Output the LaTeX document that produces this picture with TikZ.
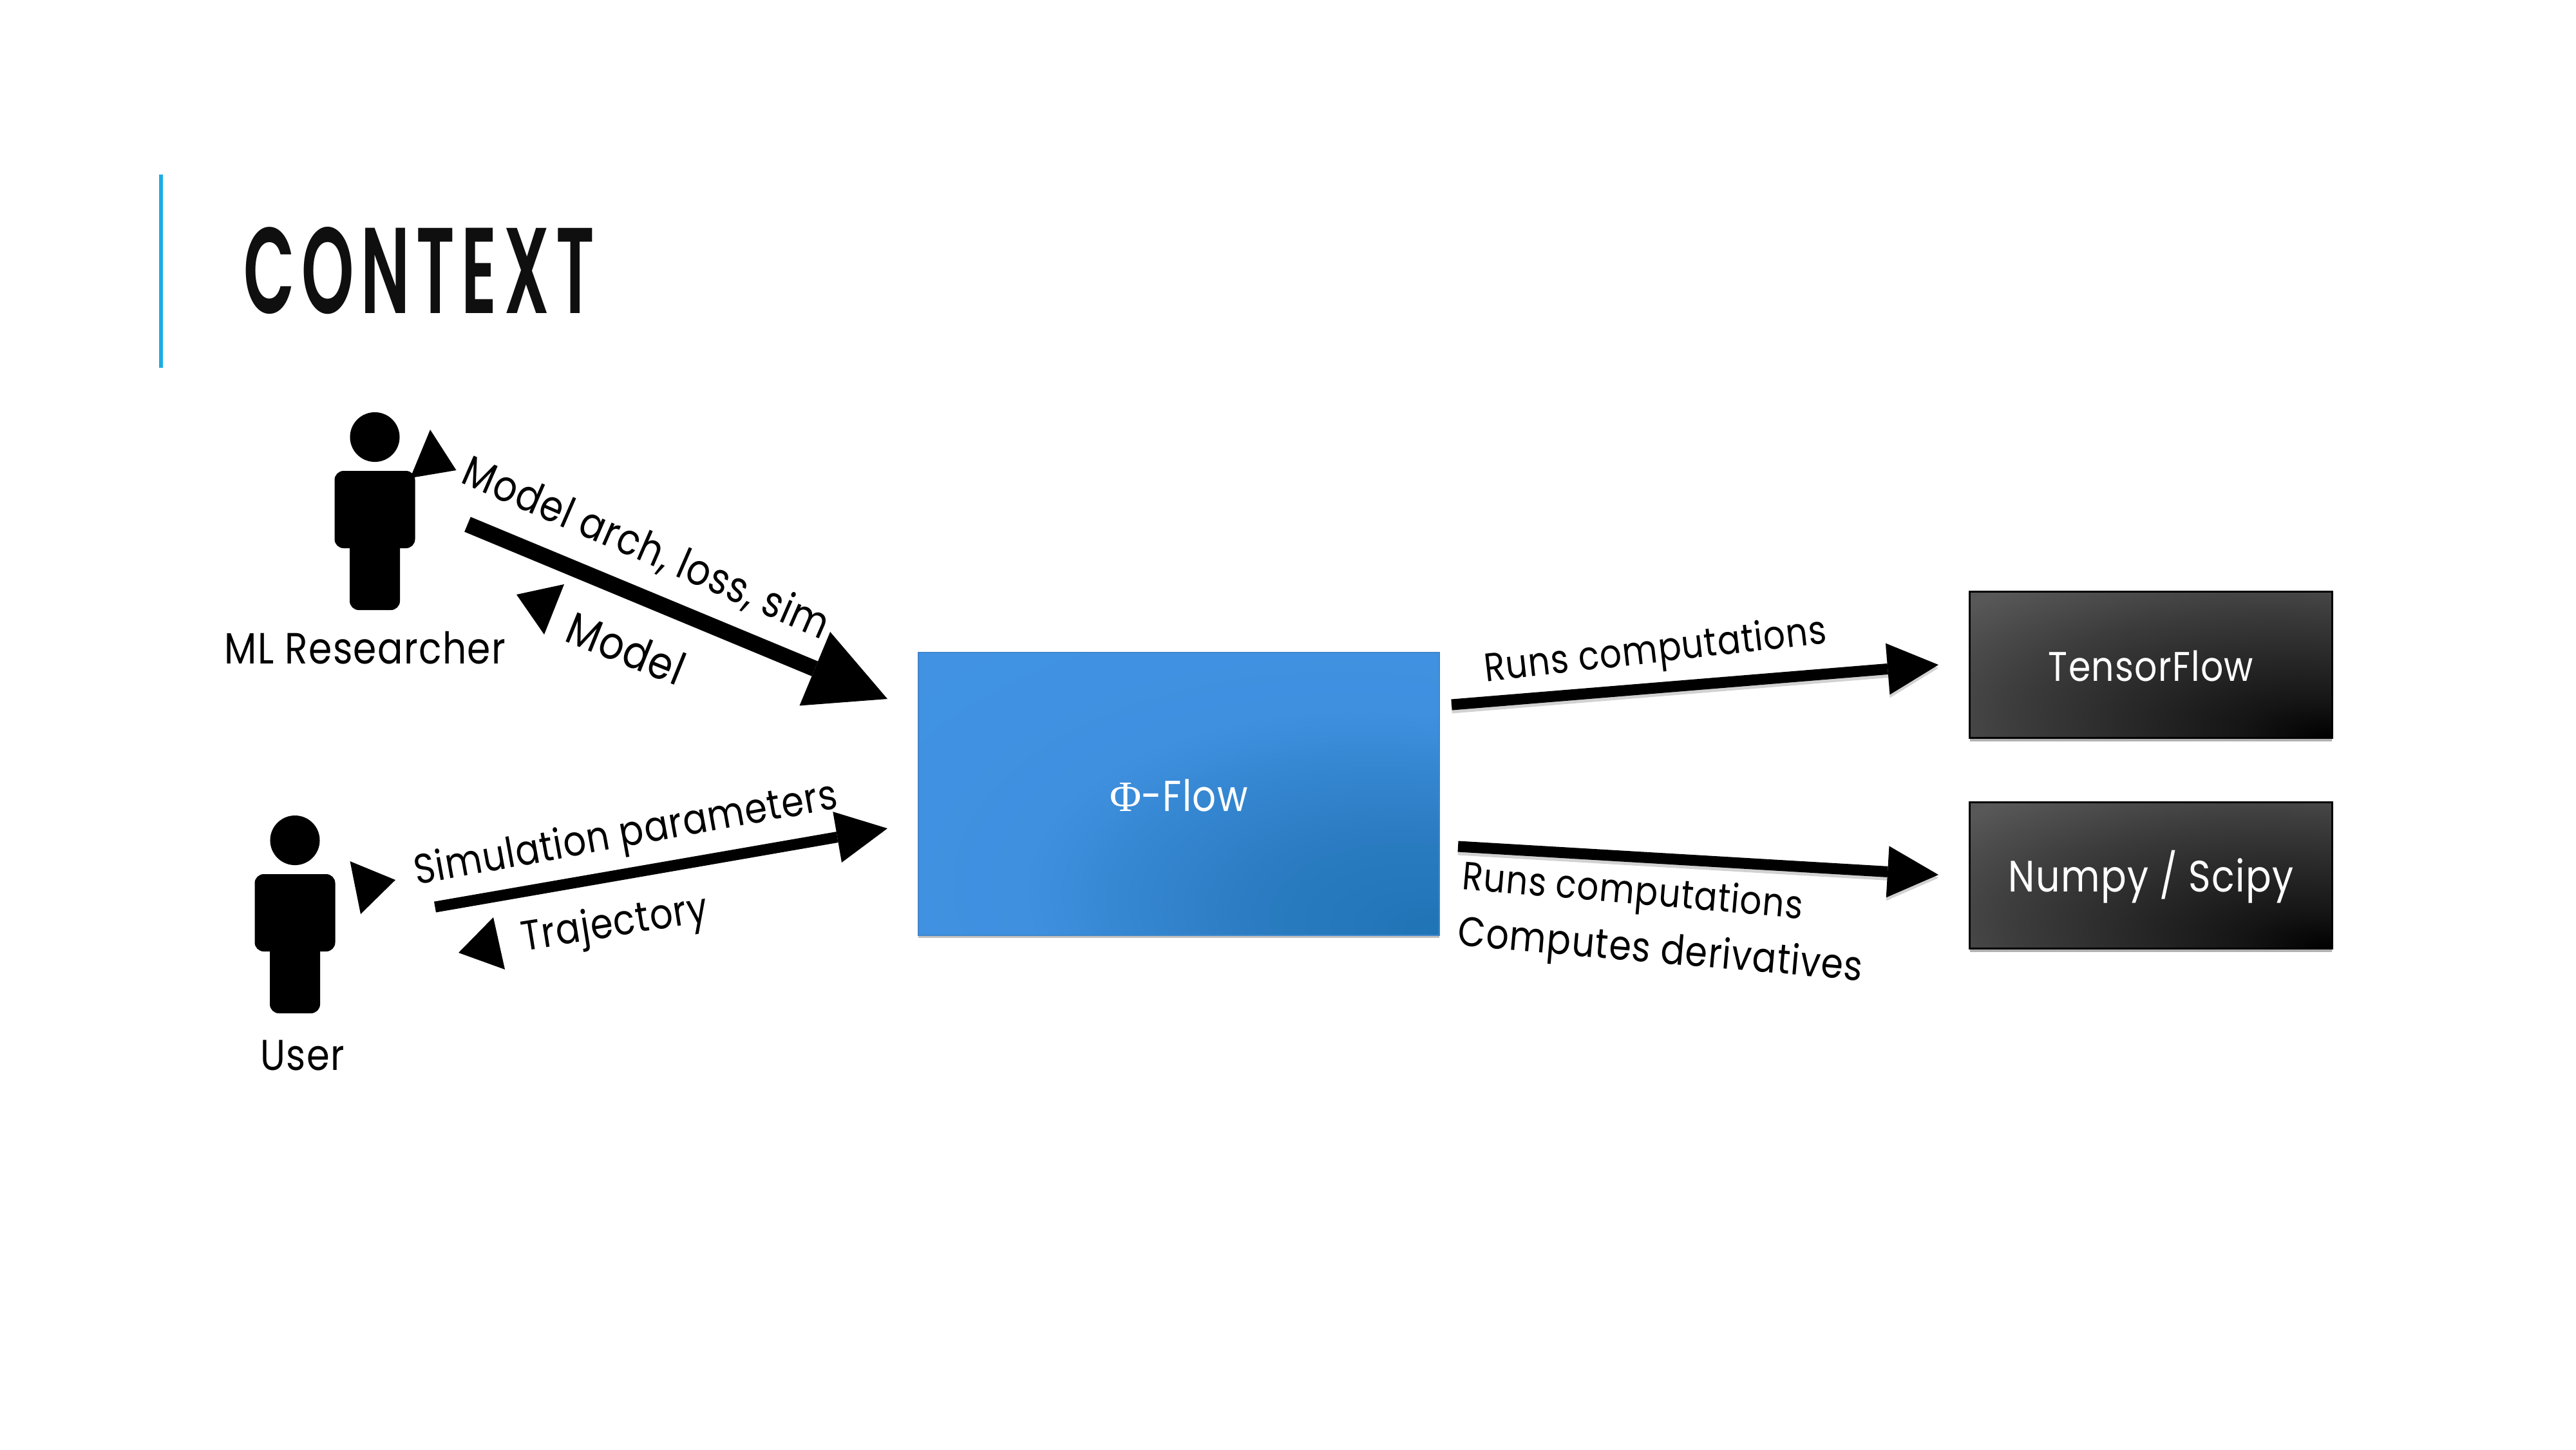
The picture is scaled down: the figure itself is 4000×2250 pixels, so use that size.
\documentclass[tikz,border=0pt]{standalone}
\usepackage{graphicx}
\usepackage{fontspec}
\usepackage{xcolor}
\setmainfont{Poppins}[FakeStretch=0.86,LetterSpace=2]
\newfontfamily\titlefont{Poppins SemiBold}[LetterSpace=10]
\newfontfamily\phifont{Liberation Serif}
\usetikzlibrary{arrows.meta,shadows}
\definecolor{barblue}{HTML}{1CADE4}
\definecolor{inkdark}{HTML}{0F0F0F}
\definecolor{flowA}{HTML}{1F74B5}
\definecolor{flowB}{HTML}{2B7CC2}
\definecolor{flowC}{HTML}{3F90DF}
\definecolor{flowD}{HTML}{4395E8}
\definecolor{flowE}{HTML}{3D86CB}
\definecolor{greyA}{HTML}{000000}
\definecolor{greyB}{HTML}{151515}
\definecolor{greyC}{HTML}{3C3C3C}
\definecolor{greyD}{HTML}{585858}
\definecolor{greyE}{HTML}{4A4A4A}
\pgfdeclareradialshading{flowglow}{\pgfpoint{25bp}{-25bp}}{color(0bp)=(flowA); color(15bp)=(flowB); color(32bp)=(flowC); color(75bp)=(flowD); color(100bp)=(flowD)}
\pgfdeclareradialshading{darkcorner}{\pgfpoint{25bp}{-25bp}}{color(0bp)=(greyA); color(10bp)=(greyB); color(35bp)=(greyC); color(50bp)=(greyD); color(75bp)=(greyE); color(100bp)=(greyE)}
\newcommand{\wfit}[2]{\resizebox{#1}{!}{#2}}
\newcommand{\lowered}[2]{\raisebox{-#1}[1cm][1cm]{#2}}
\tikzset{
  lbl/.style={inner sep=0pt,text=black},
  flowbox/.style={shade,shading=flowglow,draw=flowE,line width=0.02cm,inner sep=0pt,minimum width=8.09cm,minimum height=4.38cm,text=white,
    drop shadow={shadow xshift=0cm,shadow yshift=-0.04cm,opacity=.25,fill=black}},
  darkbox/.style={shade,shading=darkcorner,draw=black,line width=0.03cm,inner sep=0pt,minimum width=5.62cm,minimum height=2.27cm,text=white,
    drop shadow={shadow xshift=0cm,shadow yshift=-0.05cm,opacity=.3,fill=black}},
  bigarrow/.style={draw=black,line width=0.25cm,-{Triangle[length=1.22cm,width=1.24cm,line width=0pt]}},
  midarrow/.style={draw=black,line width=0.17cm,-{Triangle[length=0.79cm,width=0.8cm,line width=0pt]}},
  arrowshade/.style={draw=black,opacity=.18,line width=0.17cm,-{Triangle[length=0.79cm,width=0.8cm,line width=0pt]}},
  tri/.style={fill=black},
}
\newcommand{\personfig}[2]{%
  \begin{scope}[shift={(#1,#2)}]
    \fill (0,38.5) circle[radius=0.385cm];
    \fill[rounded corners=0.14cm] (-62.5,91) rectangle (62.5,211);
    \fill[rounded corners=0.14cm] (-39,180) rectangle (39,307);
  \end{scope}}
\begin{document}
\begin{tikzpicture}[x=0.01cm,y=-0.01cm]
\useasboundingbox (0,0) rectangle (4000,2250);
\fill[white] (0,0) rectangle (4000,2250);
% title
\fill[barblue] (247,271) rectangle (253,571);
\node[lbl,anchor=west,text=inkdark] (title) at (378,420) {\resizebox{5.44cm}{1.34cm}{\titlefont CONTEXT}};
% persons
\personfig{582}{640}
\personfig{458}{1266}
\node[lbl] (mlres) at (567,1006) {\wfit{4.36cm}{ML Researcher}};
\node[lbl] (usr) at (469.5,1638) {\wfit{1.3cm}{User}};
% main boxes
\node[flowbox] (flow) at (1830.5,1232.5) {\lowered{0.27cm}{\wfit{2.14cm}{{\phifont Φ}-Flow}}};
\node[darkbox] (tf) at (3340,1032) {\lowered{0.25cm}{\wfit{3.18cm}{TensorFlow}}};
\node[darkbox] (np) at (3340,1359) {\lowered{0.25cm}{\wfit{4.42cm}{Numpy / Scipy}}};
% free arrow ends
\coordinate (a1s) at (726,814);
\coordinate (a1e) at (1378,1085);
\coordinate (a2s) at (675.5,1408);
\coordinate (a2e) at (1378,1286);
\coordinate (a3s) at (2254,1094);
\coordinate (a3e) at (3010,1032);
\coordinate (a4s) at (2264,1314);
\coordinate (a4e) at (3010,1358);
\draw[arrowshade] ([yshift=-0.05cm]a3s) -- ([yshift=-0.05cm]a3e);
\draw[arrowshade] ([yshift=-0.05cm]a4s) -- ([yshift=-0.05cm]a4e);
\draw[bigarrow] (a1s) -- (a1e);
\draw[midarrow] (a2s) -- (a2e);
\draw[midarrow] (a3s) -- (a3e);
\draw[midarrow] (a4s) -- (a4e);
% direction triangles
\fill[tri] (668,667) -- (708.5,730) -- (637,742) -- cycle;
\fill[tri] (876,907) -- (802,923) -- (845,985) -- cycle;
\fill[tri] (543.5,1337) -- (614,1366) -- (560,1419) -- cycle;
\fill[tri] (766,1424) -- (712,1479) -- (784,1505) -- cycle;
% labels
\node[lbl,rotate=-23.5] (l1) at (1003,852) {\wfit{6.12cm}{Model arch, loss, sim}};
\node[lbl,rotate=-22] (l2) at (972.5,1006) {\wfit{1.9cm}{Model}};
\node[lbl,rotate=10.3] (l3) at (972,1298) {\wfit{6.66cm}{Simulation parameters}};
\node[lbl,rotate=9] (l4) at (955,1437) {\wfit{2.92cm}{Trajectory}};
\node[lbl,rotate=6.5] (l5) at (2571,1013) {\wfit{5.34cm}{Runs computations}};
\node[lbl,rotate=-5] (l6) at (2535,1388) {\wfit{5.3cm}{Runs computations}};
\node[lbl,rotate=-5] (l7) at (2578,1479) {\wfit{6.3cm}{Computes derivatives}};
\end{tikzpicture}
\end{document}
